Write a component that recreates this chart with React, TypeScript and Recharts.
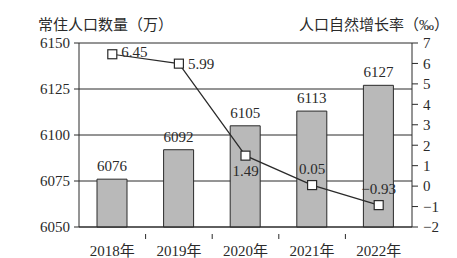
import { ComposedChart, Bar, Line, XAxis, YAxis, CartesianGrid, LabelList } from "recharts";

const years = ["2018年", "2019年", "2020年", "2021年", "2022年"];
const population = [6076, 6092, 6105, 6113, 6127];
const growthRate = [6.45, 5.99, 1.49, 0.05, -0.93];
const leftTicks = [6050, 6075, 6100, 6125, 6150];
const rightTicks = [-2, -1, 0, 1, 2, 3, 4, 5, 6, 7];

// where each rate label sits relative to its point
const ratePlacement = ["right", "right", "below", "above", "above"];

const data = years.map((year, i) => ({
    year,
    population: population[i],
    rate: growthRate[i],
}));

const FONT = '"Liberation Serif", "Times New Roman", "Noto Sans CJK SC", serif';
const INK = "#2a2a2a";
const BAND = 333 / years.length;

const fmtMinus = (v: number | string) => String(v).replace("-", "\u2212");

function SquareDot(props: any) {
    const { cx, cy } = props;
    if (cx == null || cy == null) return null;
    return <rect x={cx - 4.5} y={cy - 4.5} width={9} height={9} fill="#fff" stroke={INK} strokeWidth={1.2} />;
}

function RateLabel(props: any) {
    const { x, y, value, index } = props;
    const place = ratePlacement[index];
    let tx = x, ty = y, anchor: "start" | "middle" = "middle";
    if (place === "right") {
        tx = x + 9;
        ty = y - (index === 0 ? 2 : 0);
        anchor = "start";
    } else if (place === "below") {
        ty = y + 15;
    } else {
        ty = y - 16;
    }
    return (
        <text x={tx} y={ty} dy="0.35em" textAnchor={anchor} fontSize={15} fontFamily={FONT} fill={INK}>
            {fmtMinus(value)}
        </text>
    );
}

function YearTick(props: any) {
    const { x, y, payload, index } = props;
    return (
        <g>
            {index < years.length - 1 && (
                <line x1={x + BAND / 2} x2={x + BAND / 2} y1={y - 1} y2={y + 4} stroke={INK} />
            )}
            <text x={x} y={y + 16} dy="0.35em" textAnchor="middle" fontSize={15} fontFamily={FONT} fill={INK}>
                {payload.value}
            </text>
        </g>
    );
}

export default function App() {
    return (
        <div style={{ position: "fixed", left: 0, top: 0, width: 457, height: 258, background: "#fff" }}>
            <div
                style={{
                    position: "absolute",
                    left: 38,
                    top: 15,
                    fontSize: 15,
                    fontFamily: FONT,
                    color: INK,
                    whiteSpace: "nowrap",
                    lineHeight: "20px",
                }}
            >
                常住人口数量（万）
            </div>
            <div
                style={{
                    position: "absolute",
                    right: 8,
                    top: 15,
                    fontSize: 15,
                    fontFamily: FONT,
                    color: INK,
                    whiteSpace: "nowrap",
                    lineHeight: "20px",
                }}
            >
                人口自然增长率（‰）
            </div>
            <ComposedChart
                width={457}
                height={258}
                data={data}
                margin={{ top: 43, right: 0, bottom: 0, left: 0 }}
            >
                <CartesianGrid yAxisId="left" vertical={false} stroke={INK} strokeWidth={1} />
                <XAxis
                    dataKey="year"
                    height={31}
                    axisLine={{ stroke: INK }}
                    tickLine={false}
                    tick={<YearTick />}
                    interval={0}
                />
                <YAxis
                    yAxisId="left"
                    width={79}
                    domain={[6050, 6150]}
                    ticks={leftTicks}
                    axisLine={{ stroke: INK }}
                    tickLine={{ stroke: INK }}
                    tickSize={5}
                    tickMargin={4}
                    tick={{ fontSize: 15, fontFamily: FONT, fill: INK }}
                />
                <YAxis
                    yAxisId="right"
                    orientation="right"
                    width={45}
                    domain={[-2, 7]}
                    ticks={rightTicks}
                    interval={0}
                    axisLine={{ stroke: INK }}
                    tickLine={{ stroke: INK }}
                    tickSize={6}
                    tickMargin={5}
                    tickFormatter={fmtMinus}
                    tick={{ fontSize: 15, fontFamily: FONT, fill: INK }}
                />
                <Bar
                    yAxisId="left"
                    dataKey="population"
                    barSize={30}
                    fill="#b9b9b9"
                    stroke={INK}
                    strokeWidth={1}
                    isAnimationActive={false}
                >
                    <LabelList
                        dataKey="population"
                        position="top"
                        offset={8}
                        style={{ fontSize: 15, fontFamily: FONT, fill: INK }}
                    />
                </Bar>
                <Line
                    yAxisId="right"
                    dataKey="rate"
                    stroke={INK}
                    strokeWidth={1.2}
                    dot={<SquareDot />}
                    activeDot={false}
                    isAnimationActive={false}
                >
                    <LabelList dataKey="rate" content={<RateLabel />} />
                </Line>
            </ComposedChart>
        </div>
    );
}
